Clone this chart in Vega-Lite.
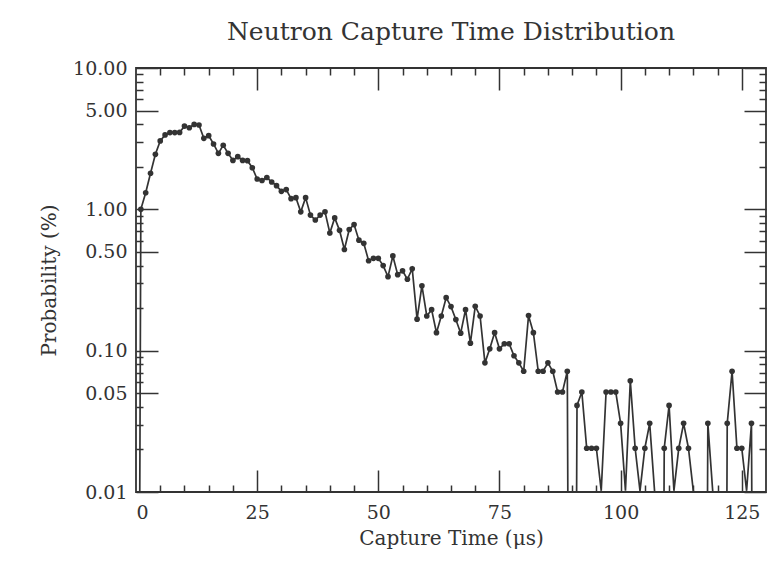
{
  "$schema": "https://vega.github.io/schema/vega-lite/v6.json",
  "width": 630,
  "height": 424,
  "autosize": {"type": "none"},
  "padding": {"left": 136, "top": 68, "right": 17, "bottom": 71},
  "background": "white",
  "config": {
    "view": {"stroke": "#333333", "strokeWidth": 1.8},
    "font": "DejaVu Serif",
    "axis": {"labelFont": "DejaVu Serif", "titleFont": "DejaVu Serif", "labelColor": "#333333", "titleColor": "#333333", "tickColor": "#333333", "tickWidth": 1.5, "grid": false, "domain": false, "titleFontWeight": "normal"}
  },
  "title": {"text": "Neutron Capture Time Distribution", "fontSize": 25, "font": "DejaVu Serif", "fontWeight": "normal", "color": "#333333", "baseline": "alphabetic", "offset": -6, "anchor": "middle"},
  "data": {"values": [
    {"t": 0, "p": 1e-9}, {"t": 1, "p": 1.00}, {"t": 2, "p": 1.31}, {"t": 3, "p": 1.80}, {"t": 4, "p": 2.45},
    {"t": 5, "p": 3.05}, {"t": 6, "p": 3.36}, {"t": 7, "p": 3.49}, {"t": 8, "p": 3.49}, {"t": 9, "p": 3.50},
    {"t": 10, "p": 3.88}, {"t": 11, "p": 3.78}, {"t": 12, "p": 3.99}, {"t": 13, "p": 3.95}, {"t": 14, "p": 3.18},
    {"t": 15, "p": 3.32}, {"t": 16, "p": 2.90}, {"t": 17, "p": 2.49}, {"t": 18, "p": 2.84}, {"t": 19, "p": 2.49},
    {"t": 20, "p": 2.22}, {"t": 21, "p": 2.36}, {"t": 22, "p": 2.22}, {"t": 23, "p": 2.21}, {"t": 24, "p": 1.97},
    {"t": 25, "p": 1.64}, {"t": 26, "p": 1.60}, {"t": 27, "p": 1.68}, {"t": 28, "p": 1.56}, {"t": 29, "p": 1.47},
    {"t": 30, "p": 1.34}, {"t": 31, "p": 1.38}, {"t": 32, "p": 1.19}, {"t": 33, "p": 1.21}, {"t": 34, "p": 0.96},
    {"t": 35, "p": 1.21}, {"t": 36, "p": 0.91}, {"t": 37, "p": 0.84}, {"t": 38, "p": 0.91}, {"t": 39, "p": 0.96},
    {"t": 40, "p": 0.68}, {"t": 41, "p": 0.87}, {"t": 42, "p": 0.71}, {"t": 43, "p": 0.52}, {"t": 44, "p": 0.72},
    {"t": 45, "p": 0.78}, {"t": 46, "p": 0.605}, {"t": 47, "p": 0.575}, {"t": 48, "p": 0.433}, {"t": 49, "p": 0.45},
    {"t": 50, "p": 0.45}, {"t": 51, "p": 0.40}, {"t": 52, "p": 0.334}, {"t": 53, "p": 0.468}, {"t": 54, "p": 0.345},
    {"t": 55, "p": 0.367}, {"t": 56, "p": 0.32}, {"t": 57, "p": 0.38}, {"t": 58, "p": 0.167}, {"t": 59, "p": 0.288},
    {"t": 60, "p": 0.176}, {"t": 61, "p": 0.195}, {"t": 62, "p": 0.134}, {"t": 63, "p": 0.176}, {"t": 64, "p": 0.237},
    {"t": 65, "p": 0.205}, {"t": 66, "p": 0.166}, {"t": 67, "p": 0.133}, {"t": 68, "p": 0.195}, {"t": 69, "p": 0.113},
    {"t": 70, "p": 0.206}, {"t": 71, "p": 0.176}, {"t": 72, "p": 0.082}, {"t": 73, "p": 0.103}, {"t": 74, "p": 0.134},
    {"t": 75, "p": 0.103}, {"t": 76, "p": 0.112}, {"t": 77, "p": 0.112}, {"t": 78, "p": 0.092}, {"t": 79, "p": 0.082},
    {"t": 80, "p": 0.0715}, {"t": 81, "p": 0.177}, {"t": 82, "p": 0.134}, {"t": 83, "p": 0.0715}, {"t": 84, "p": 0.0715},
    {"t": 85, "p": 0.082}, {"t": 86, "p": 0.0715}, {"t": 87, "p": 0.051}, {"t": 88, "p": 0.051}, {"t": 89, "p": 0.0715},
    {"t": 90, "p": 1e-9}, {"t": 91, "p": 0.041}, {"t": 92, "p": 0.051}, {"t": 93, "p": 0.0204}, {"t": 94, "p": 0.0204},
    {"t": 95, "p": 0.0204}, {"t": 96, "p": 0.0102}, {"t": 97, "p": 0.051}, {"t": 98, "p": 0.051}, {"t": 99, "p": 0.051},
    {"t": 100, "p": 0.0306}, {"t": 101, "p": 0.0102}, {"t": 102, "p": 0.0612}, {"t": 103, "p": 0.0204}, {"t": 104, "p": 0.0102},
    {"t": 105, "p": 0.0204}, {"t": 106, "p": 0.0306}, {"t": 107, "p": 0.0102}, {"t": 108, "p": 1e-9}, {"t": 109, "p": 0.0204},
    {"t": 110, "p": 0.041}, {"t": 111, "p": 0.0102}, {"t": 112, "p": 0.0204}, {"t": 113, "p": 0.0306}, {"t": 114, "p": 0.0204},
    {"t": 115, "p": 0.0102}, {"t": 116, "p": 1e-9}, {"t": 117, "p": 1e-9}, {"t": 118, "p": 0.0306}, {"t": 119, "p": 0.0102},
    {"t": 120, "p": 1e-9}, {"t": 121, "p": 1e-9}, {"t": 122, "p": 0.0306}, {"t": 123, "p": 0.0715}, {"t": 124, "p": 0.0204},
    {"t": 125, "p": 0.0204}, {"t": 126, "p": 0.0102}, {"t": 127, "p": 0.0306}, {"t": 128, "p": 1e-9}
  ]},
  "resolve": {"axis": {"x": "independent", "y": "independent"}},
  "layer": [
    {
      "mark": {"type": "line", "color": "#333333", "strokeWidth": 1.7, "clip": true},
      "encoding": {
        "x": {"field": "t", "type": "quantitative", "scale": {"domain": [0, 130], "nice": false, "zero": false},
          "axis": {"orient": "bottom", "values": [0, 25, 50, 75, 100, 125], "ticks": false, "labelFontSize": 19, "labelPadding": 11, "title": "Capture Time (μs)", "titleFontSize": 20, "titlePadding": 6}},
        "y": {"field": "p", "type": "quantitative", "scale": {"type": "log", "domain": [0.01, 10], "nice": false},
          "axis": {"orient": "left", "values": [0.01, 0.05, 0.1, 0.5, 1, 5, 10], "format": ".2f", "ticks": false, "labelFontSize": 19, "labelPadding": 9, "title": "Probability (%)", "titleFontSize": 20, "titlePadding": 13}}
      }
    },
    {
      "transform": [{"filter": "datum.p > 0.0105"}],
      "mark": {"type": "point", "filled": true, "color": "#333333", "opacity": 1, "size": 32, "clip": true},
      "encoding": {
        "x": {"field": "t", "type": "quantitative",
          "axis": {"orient": "top", "offset": -424, "labels": false, "title": null, "values": [5, 10, 15, 20, 25, 30, 35, 40, 45, 50, 55, 60, 65, 70, 75, 80, 85, 90, 95, 100, 105, 110, 115, 120, 125],
            "tickSize": {"condition": {"test": "datum.value % 25 === 0", "value": 22}, "value": 7}}},
        "y": {"field": "p", "type": "quantitative",
          "axis": {"orient": "right", "offset": -630, "labels": false, "title": null,
            "values": [0.01, 0.02, 0.03, 0.04, 0.05, 0.06, 0.07, 0.08, 0.09, 0.1, 0.2, 0.3, 0.4, 0.5, 0.6, 0.7, 0.8, 0.9, 1, 2, 3, 4, 5, 6, 7, 8, 9, 10],
            "tickSize": {"condition": {"test": "indexof([0.01, 0.05, 0.1, 0.5, 1, 5, 10], datum.value) >= 0", "value": 22}, "value": 7}}}
      }
    },
    {
      "transform": [{"filter": "datum.p > 0.0105"}],
      "mark": {"type": "point", "filled": true, "opacity": 0, "size": 1, "clip": true},
      "encoding": {
        "x": {"field": "t", "type": "quantitative",
          "axis": {"orient": "bottom", "offset": -424, "labels": false, "title": null, "values": [5, 10, 15, 20, 25, 30, 35, 40, 45, 50, 55, 60, 65, 70, 75, 80, 85, 90, 95, 100, 105, 110, 115, 120, 125],
            "tickSize": {"condition": {"test": "datum.value % 25 === 0", "value": 22}, "value": 7}}},
        "y": {"field": "p", "type": "quantitative",
          "axis": {"orient": "left", "offset": -630, "labels": false, "title": null,
            "values": [0.01, 0.02, 0.03, 0.04, 0.05, 0.06, 0.07, 0.08, 0.09, 0.1, 0.2, 0.3, 0.4, 0.5, 0.6, 0.7, 0.8, 0.9, 1, 2, 3, 4, 5, 6, 7, 8, 9, 10],
            "tickSize": {"condition": {"test": "indexof([0.01, 0.05, 0.1, 0.5, 1, 5, 10], datum.value) >= 0", "value": 22}, "value": 7}}}
      }
    }
  ]
}
